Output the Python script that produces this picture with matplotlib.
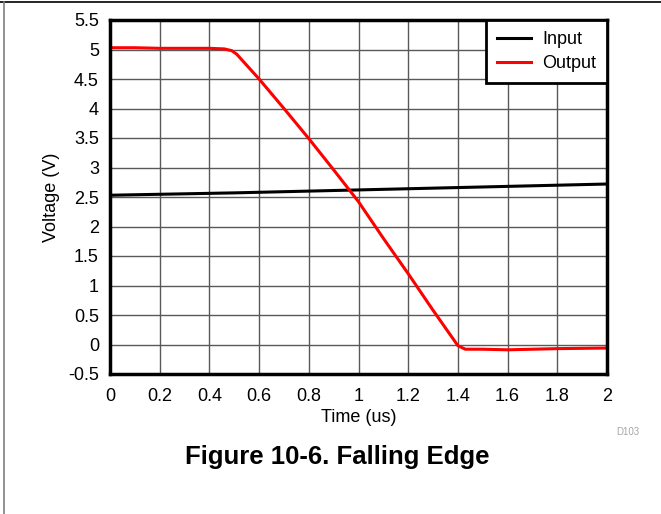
import matplotlib
matplotlib.use("Agg")
import matplotlib.pyplot as plt
from matplotlib.lines import Line2D

plt.rcParams["font.family"] = ["Liberation Sans", "DejaVu Sans"]

t_in = [0.0, 0.5, 1.0, 1.5, 2.0]
v_in = [2.53, 2.57, 2.62, 2.67, 2.72]

t_out = [0.0, 0.1, 0.2, 0.3, 0.4, 0.46, 0.49, 0.51, 0.6, 0.7, 0.8, 0.9,
         1.0, 1.1, 1.2, 1.3, 1.4, 1.43, 1.5, 1.6, 1.8, 2.0]
v_out = [5.03, 5.03, 5.02, 5.02, 5.02, 5.01, 4.98, 4.92, 4.5, 4.0, 3.49, 2.96,
         2.42, 1.8, 1.2, 0.58, -0.02, -0.08, -0.08, -0.09, -0.07, -0.06]

x_ticks = [0, 0.2, 0.4, 0.6, 0.8, 1, 1.2, 1.4, 1.6, 1.8, 2]
y_ticks = [-0.5, 0, 0.5, 1, 1.5, 2, 2.5, 3, 3.5, 4, 4.5, 5, 5.5]

fig = plt.figure(figsize=(6.61, 5.14), dpi=100)
ax = fig.add_axes([110 / 661, 1 - 374 / 514, 497 / 661, 354 / 514])

ax.plot(t_in, v_in, color="black", linewidth=2.2, label="Input")
ax.plot(t_out, v_out, color="red", linewidth=2.2, label="Output")

ax.set_xlim(0, 2)
ax.set_ylim(-0.5, 5.5)
ax.set_xticks(x_ticks)
ax.set_xticklabels([f"{v:g}" for v in x_ticks])
ax.set_yticks(y_ticks)
ax.set_yticklabels([f"{v:g}" for v in y_ticks])
ax.tick_params(length=0, labelsize=13)
ax.tick_params(axis="x", pad=10)
ax.tick_params(axis="y", pad=8)
ax.grid(True, color="0.35", linewidth=1.0)
ax.set_axisbelow(True)
for s in ax.spines.values():
    s.set_linewidth(2.5)

ax.set_xlabel("Time (us)", fontsize=13, labelpad=3)
ax.set_ylabel("Voltage (V)", fontsize=13, labelpad=6)

leg = ax.legend(loc="upper right", fontsize=13, fancybox=False, framealpha=1,
                edgecolor="black", borderaxespad=0, handlelength=1.9,
                handletextpad=0.6, labelspacing=0.4, borderpad=0.6)
leg.get_frame().set_linewidth(2.0)

fig.text(628 / 661, 1 - 432 / 514, "D103", fontsize=7, color="0.65",
         ha="center", va="center")
fig.text(337 / 661, 1 - 457 / 514, "Figure 10-6. Falling Edge", fontsize=18.5,
         fontweight="bold", ha="center", va="center")

# page frame lines (top and left)
fig.add_artist(Line2D([0, 1], [1 - 2 / 514, 1 - 2 / 514], color="black",
                      linewidth=1.2, transform=fig.transFigure))
fig.add_artist(Line2D([4 / 661, 4 / 661], [0, 1 - 2 / 514], color="0.5",
                      linewidth=1.2, transform=fig.transFigure))

fig.savefig("out.png", dpi=100)
